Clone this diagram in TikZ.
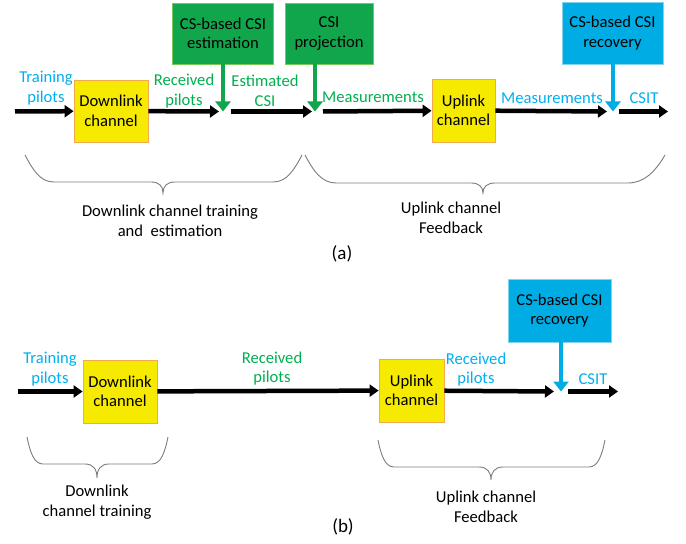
\documentclass[tikz,border=0pt]{standalone}
\usepackage{fontspec}
\setmainfont{Carlito}
\usetikzlibrary{arrows.meta}
\definecolor{boxyellow}{RGB}{245,234,0}
\definecolor{yellowedge}{RGB}{242,170,80}
\definecolor{boxgreen}{RGB}{18,166,76}
\definecolor{greenedge}{RGB}{120,200,90}
\definecolor{boxblue}{RGB}{0,172,228}
\definecolor{blueedge}{RGB}{130,210,240}
\definecolor{txtblue}{RGB}{0,176,240}
\definecolor{txtgreen}{RGB}{0,176,80}
\definecolor{bracegray}{RGB}{125,125,125}
\begin{document}
\begin{tikzpicture}[x=1bp,y=-1bp,
  every node/.style={font=\fontsize{16.6bp}{19.5bp}\selectfont, inner sep=0pt, align=center},
  chanbox/.style={draw=yellowedge, line width=0.8bp, fill=boxyellow},
  greenbox/.style={draw=greenedge, line width=0.8bp, fill=boxgreen},
  bluebox/.style={draw=blueedge, line width=0.8bp, fill=boxblue},
  flow/.style={draw=black, line width=4.5bp, -{Triangle[length=9bp,width=12bp]}},
  gdrop/.style={draw=boxgreen, line width=4.5bp, -{Triangle[length=10bp,width=15bp]}},
  bdrop/.style={draw=boxblue, line width=4.5bp, -{Triangle[length=10bp,width=15bp]}},
  bluelbl/.style={text=txtblue},
  greenlbl/.style={text=txtgreen},
  caption/.style={font=\fontsize{19bp}{22bp}\selectfont},
  bracepath/.style={draw=bracegray, line width=0.9bp}
]
\fill[white] (0,0) rectangle (686,544);
\useasboundingbox (0,0) rectangle (686,544);

% ---------------- (a) ----------------
\node[chanbox, minimum width=74bp, minimum height=62bp] (dla) at (111,111) {Downlink\\channel};
\node[chanbox, minimum width=63bp, minimum height=63bp] (ula) at (463.5,110.5) {Uplink\\channel};
\node[greenbox, minimum width=101bp, minimum height=61bp] (est) at (223,33.5) {CS-based CSI\\estimation};
\node[greenbox, minimum width=88bp, minimum height=61bp] (proj) at (329,33.5) {CSI\\projection};
\node[bluebox, minimum width=101bp, minimum height=62bp] (reca) at (612.5,33) {CS-based CSI\\recovery};

\coordinate (sa) at (15,111.5);
\coordinate (ja1) at (223,111.5);
\coordinate (ja2) at (315,111.5);
\coordinate (ja3) at (613,111.5);
\coordinate (ea) at (668,111.5);

\draw[flow] (sa) -- (dla);
\draw[flow] (dla) -- ([xshift=-4bp]ja1);
\draw[gdrop] (est.south -| ja1) -- (ja1);
\draw[flow] ([xshift=8bp]ja1) -- ([xshift=-3bp]ja2);
\draw[gdrop] (proj.south -| ja2) -- (ja2);
\draw[flow] ([xshift=8bp]ja2) -- (ula);
\draw[flow] (ula) -- ([xshift=-6bp]ja3);
\draw[bdrop] (reca.south -| ja3) -- (ja3);
\draw[flow] ([xshift=6bp]ja3) -- (ea);

\node[bluelbl] (tpa) at (46,88) {Training\\pilots};
\node[greenlbl] (rpa) at (184,91) {Received\\pilots};
\node[greenlbl] (eca) at (265,91) {Estimated\\CSI};
\node[greenlbl] (ma1) at (373,97) {Measurements};
\node[bluelbl] (ma2) at (552,98) {Measurements};
\node[bluelbl] (csita) at (644,98) {CSIT};

\path[bracepath] (25,155) .. controls (33,170) and (40,182) .. (54,182) -- (151,182)
  .. controls (159,182) and (163,186) .. (163,193) .. controls (163,186) and (167,182) .. (175,182)
  -- (273,182) .. controls (287,182) and (294,170) .. (302,155);
\path[bracepath] (305,155) .. controls (313,170) and (321,183) .. (336,183) -- (471,183)
  .. controls (479,183) and (483,187) .. (483,193) .. controls (483,187) and (487,183) .. (495,183)
  -- (628,183) .. controls (644,183) and (655,172) .. (665,155);

\node (dlta) at (170,221) {Downlink channel training\\and~~estimation};
\node (ulfa) at (451,218) {Uplink channel\\Feedback};
\node[caption] (capa) at (342,254) {(a)};

% ---------------- (b) ----------------
\node[chanbox, minimum width=74bp, minimum height=63bp] (dlb) at (120,391.5) {Downlink\\channel};
\node[chanbox, minimum width=65bp, minimum height=63bp] (ulb) at (411.5,390.5) {Uplink\\channel};
\node[bluebox, minimum width=103bp, minimum height=63bp] (recb) at (559.5,310.5) {CS-based CSI\\recovery};

\coordinate (sb) at (18,391.5);
\coordinate (jb) at (561,391.5);
\coordinate (eb) at (618,391.5);

\draw[flow] (sb) -- (dlb);
\draw[flow] (dlb) -- (ulb);
\draw[flow] (ulb) -- ([xshift=-7bp]jb);
\draw[bdrop] (recb.south -| jb) -- (jb);
\draw[flow] ([xshift=7bp]jb) -- (eb);

\node[bluelbl] (tpb) at (50,369) {Training\\pilots};
\node[greenlbl] (rpb1) at (272,368.5) {Received\\pilots};
\node[bluelbl] (rpb2) at (476,369.5) {Received\\pilots};
\node[bluelbl] (csitb) at (593,379) {CSIT};

\path[bracepath] (27,437) .. controls (30,452) and (34,464) .. (43,464) -- (85,464)
  .. controls (93,464) and (97,469) .. (97,478) .. controls (97,469) and (101,464) .. (109,464)
  -- (152,464) .. controls (161,464) and (165,452) .. (168,437);
\path[bracepath] (378,440) .. controls (381,455) and (385,467) .. (394,467) -- (479,467)
  .. controls (487,467) and (491,472) .. (491,480) .. controls (491,472) and (495,467) .. (503,467)
  -- (589,467) .. controls (598,467) and (602,455) .. (605,440);

\node (dltb) at (97,502) {Downlink\\channel training};
\node (ulfb) at (486,507) {Uplink channel\\Feedback};
\node[caption] (capb) at (343,527) {(b)};
\end{tikzpicture}
\end{document}
